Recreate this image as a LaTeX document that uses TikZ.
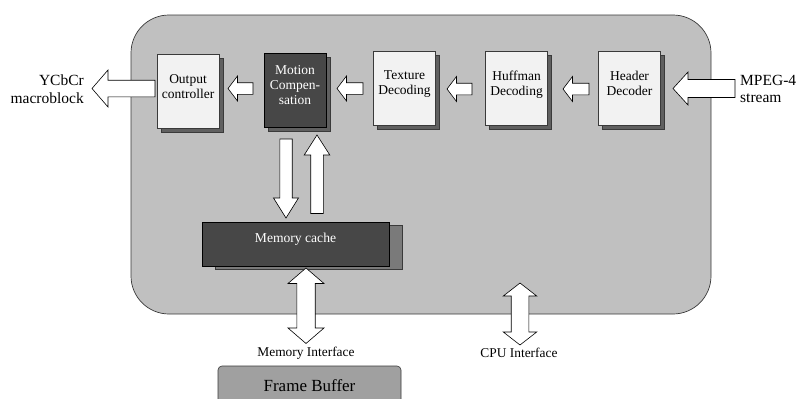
\documentclass[tikz,border=0pt]{standalone}
\usepackage{fontspec}
\setmainfont{Liberation Serif}
\usetikzlibrary{calc,shadows}

\definecolor{panelgray}{HTML}{C0C0C0}
\definecolor{lightbox}{HTML}{F2F2F2}
\definecolor{darkbox}{HTML}{474747}
\definecolor{shadowgray}{HTML}{606060}
\definecolor{cacheshadow}{HTML}{7A7A7A}
\definecolor{buffergray}{HTML}{A0A0A0}
\definecolor{edgegray}{HTML}{3A3A3A}

% Block arrow from #1 to #2: head length #3, head half-width #4, shaft half-width #5
\newcommand\blockarrow[5]{%
  \path let \p1=(#1), \p2=(#2),
    \n1={veclen(\x2-\x1,\y2-\y1)}, \n2={atan2(\y2-\y1,\x2-\x1)} in
    [shift={(\p1)}, rotate=\n2, blockarrowstyle]
    (0pt,#5pt) -- (\n1-#3pt,#5pt) -- (\n1-#3pt,#4pt) -- (\n1,0pt)
    -- (\n1-#3pt,-#4pt) -- (\n1-#3pt,-#5pt) -- (0pt,-#5pt) -- cycle;}
% Double-headed block arrow between #1 and #2
\newcommand\dblockarrow[5]{%
  \path let \p1=(#1), \p2=(#2),
    \n1={veclen(\x2-\x1,\y2-\y1)}, \n2={atan2(\y2-\y1,\x2-\x1)} in
    [shift={(\p1)}, rotate=\n2, blockarrowstyle]
    (0pt,0pt) -- (#3pt,#4pt) -- (#3pt,#5pt) -- (\n1-#3pt,#5pt) -- (\n1-#3pt,#4pt)
    -- (\n1,0pt) -- (\n1-#3pt,-#4pt) -- (\n1-#3pt,-#5pt) -- (#3pt,-#5pt)
    -- (#3pt,-#4pt) -- cycle;}

\tikzset{
  blockarrowstyle/.style={draw=black, fill=white, line width=0.6pt, line join=miter},
  stage/.style={draw=edgegray, line width=0.6pt, minimum width=62pt, minimum height=74pt,
    inner sep=1pt, align=center, font=\fontsize{13.5}{15}\selectfont, text depth=10pt,
    general shadow={fill=shadowgray, draw=edgegray, shadow xshift=4pt, shadow yshift=-4pt}},
  lightstage/.style={stage, fill=lightbox},
  darkstage/.style={stage, fill=darkbox, text=white, draw=black},
  label/.style={font=\fontsize{15.5}{17.5}\selectfont, inner sep=0pt},
  smalllabel/.style={font=\fontsize{13.4}{15}\selectfont, inner sep=0pt},
}

\begin{document}
\begin{tikzpicture}[x=1pt, y=-1pt]
\clip (0,0) rectangle (796,399);
\fill[white] (0,0) rectangle (796,399);

% decoder core panel
\node[draw=edgegray, line width=0.7pt, fill=panelgray, rounded corners=38pt,
  minimum width=580pt, minimum height=299pt, inner sep=0pt] (core) at (421,164.5) {};

% pipeline stages
\node[lightstage] (oc)  at (188,91.5)   {Output\\controller};
\node[darkstage]  (mc)  at (295,90)     {Motion\\Compen-\\sation};
\node[lightstage] (td)  at (404.5,88)   {Texture\\Decoding};
\node[lightstage] (hd)  at (516.5,88)   {Huffman\\Decoding};
\node[lightstage] (hdr) at (629.5,88.5) {Header\\Decoder};

% memory cache
\node[fill=darkbox, draw=black, line width=0.6pt, minimum width=187pt, minimum height=44pt,
  inner sep=0pt, text=white, font=\fontsize{13.6}{15}\selectfont, text depth=13pt,
  general shadow={fill=cacheshadow, draw=edgegray, shadow xshift=13pt, shadow yshift=-3pt}]
  (cache) at (295.5,244) {Memory cache};

% frame buffer
\node[fill=buffergray, draw=edgegray, line width=0.6pt, rounded corners=4pt,
  minimum width=183pt, minimum height=60pt, inner sep=0pt] (fb) at (309.5,396) {};
\node[font=\fontsize{17}{20}\selectfont, inner sep=0pt] (fbt) at (309.5,386) {Frame Buffer};

% external labels
\node[label, align=right, anchor=east] (out) at (84,89) {YCbCr\\macroblock};
\node[label, align=left, anchor=west] (in) at (740,89) {MPEG-4\\stream};
\node[smalllabel] (memif) at (306,353) {Memory Interface};
\node[smalllabel] (cpuif) at (519,353) {CPU Interface};

% arrow end points
\coordinate (inTail)  at (735,88.5); \coordinate (inTip)  at (673,88.5);
\coordinate (hToH1)   at (589,89);   \coordinate (hToH2)  at (563,89);
\coordinate (hToT1)   at (472,89);   \coordinate (hToT2)  at (447,89);
\coordinate (tToM1)   at (363,88.5); \coordinate (tToM2)  at (337,88.5);
\coordinate (mToO1)   at (253,88.5); \coordinate (mToO2)  at (228,88.5);
\coordinate (outTail) at (155,88.5); \coordinate (outTip) at (92,88.5);
\coordinate (mcDown1) at (286,139);  \coordinate (mcDown2) at (286,218);
\coordinate (mcUp1)   at (317,213.5);\coordinate (mcUp2)  at (317,135);
\coordinate (memA)    at (306,268);  \coordinate (memB)   at (306,343.5);
\coordinate (cpuA)    at (520,283);  \coordinate (cpuB)   at (520,345);

% data flow
\blockarrow{inTail}{inTip}{15}{16.5}{9}
\blockarrow{hToH1}{hToH2}{9.5}{12.5}{5.8}
\blockarrow{hToT1}{hToT2}{9.5}{12.5}{5.8}
\blockarrow{tToM1}{tToM2}{9.5}{12.5}{5.8}
\blockarrow{mToO1}{mToO2}{9.5}{12.5}{5.8}
\blockarrow{outTail}{outTip}{16}{18.5}{8.3}
\blockarrow{mcDown1}{mcDown2}{20}{12.5}{6.2}
\blockarrow{mcUp1}{mcUp2}{20}{12.8}{6.3}
\dblockarrow{memA}{memB}{15.5}{18}{9.2}
\dblockarrow{cpuA}{cpuB}{13}{16.7}{8.8}
\end{tikzpicture}
\end{document}
